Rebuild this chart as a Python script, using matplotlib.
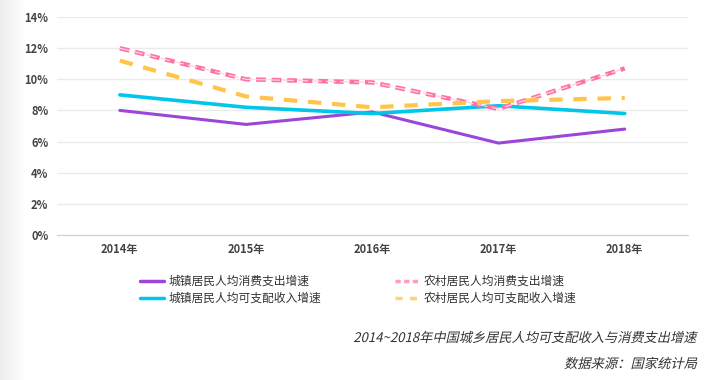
import numpy as np
import matplotlib.pyplot as plt
from matplotlib.textpath import TextPath
from matplotlib.patches import PathPatch
from matplotlib.font_manager import FontProperties
from matplotlib.transforms import Affine2D

plt.rcParams['font.family'] = ['Noto Sans CJK SC', 'DejaVu Sans']

years = ['2014年', '2015年', '2016年', '2017年', '2018年']
urban_consume = [8.0, 7.1, 7.9, 5.9, 6.8]
rural_consume = [12.0, 10.0, 9.8, 8.1, 10.7]
urban_income = [9.0, 8.2, 7.8, 8.3, 7.8]
rural_income = [11.2, 8.9, 8.2, 8.6, 8.8]
yticks = [0, 2, 4, 6, 8, 10, 12, 14]

W, H = 718, 380
fig = plt.figure(figsize=(W / 100, H / 100), dpi=100)

# 左侧灰色渐变
bg = fig.add_axes([0, 0, 0.035, 1])
grad = np.linspace(0.93, 1.0, 50).reshape(1, -1)
bg.imshow(grad, cmap='gray', vmin=0, vmax=1, aspect='auto', extent=[0, 1, 0, 1])
bg.axis('off')

ax = fig.add_axes([0.079, 0.382, 0.879, 0.573])
x = np.arange(len(years))

ax.plot(x, urban_consume, color='#9b45d9', lw=2.2, solid_capstyle='round', zorder=3)
ax.plot(x, urban_income, color='#00c6ea', lw=2.6, solid_capstyle='round', zorder=3)
ax.plot(x, rural_consume, color='#ff72a8', lw=3.2, ls=(0, (2.2, 1.3)), zorder=4)
ax.plot(x, rural_consume, color='#ffd0e2', lw=0.9, ls=(0, (7.8, 3.4)), zorder=4)
ax.plot(x, rural_income, color='#ffc44a', lw=3.0, ls=(0, (3.2, 2.6)), zorder=4)

ax.set_xlim(-0.5, 4.5)
ax.set_ylim(0, 14)
ax.set_yticks(yticks)
ax.set_yticklabels([f'{v}%' for v in yticks])
ax.set_xticks(x)
ax.set_xticklabels(years)
ax.grid(axis='y', color='#ebebeb', lw=1)
ax.set_axisbelow(True)
for s in ['top', 'right', 'left']:
    ax.spines[s].set_visible(False)
ax.spines['bottom'].set_color('#d0d0d0')
ax.tick_params(length=0, labelsize=8, labelcolor='#444444', pad=6)
for t in ax.get_xticklabels() + ax.get_yticklabels():
    t.set_fontweight('bold')

# 图例
def leg(x0, y0, color, label, dash=None, lw=2.5):
    kw = dict(color=color, lw=lw, transform=fig.transFigure, solid_capstyle='round')
    if dash:
        kw['ls'] = dash
    fig.add_artist(plt.Line2D([x0, x0 + 0.034], [y0, y0], **kw))
    fig.text(x0 + 0.04, y0, label, fontsize=8.5, color='#333333', va='center')

leg(140 / W, 1 - 281 / H, '#9b45d9', '城镇居民人均消费支出增速')
leg(140 / W, 1 - 298 / H, '#00c6ea', '城镇居民人均可支配收入增速')
leg(395 / W, 1 - 281 / H, '#ff9cc2', '农村居民人均消费支出增速', dash=(0, (1.5, 1)))
leg(395 / W, 1 - 298 / H, '#ffd27a', '农村居民人均可支配收入增速', dash=(0, (2, 2.2)))

# 斜体标注（中文字体无斜体，用倾斜变换）
fp = FontProperties(family='Noto Sans CJK SC')
def slant_text(s, right_px, cy_px, size_px):
    tp = TextPath((0, 0), s, size=size_px, prop=fp)
    bb = tp.get_extents()
    tr = Affine2D().translate(0, -size_px * 0.38).skew_deg(13, 0) \
        .translate(right_px - bb.x1, H - cy_px)
    fig.add_artist(PathPatch(tp, transform=tr, facecolor='#333333', edgecolor='none', lw=0))

slant_text('2014~2018年中国城乡居民人均可支配收入与消费支出增速', 697, 337, 13.2)
slant_text('数据来源：国家统计局', 697, 363, 13.3)

fig.savefig('out.png', dpi=100)
